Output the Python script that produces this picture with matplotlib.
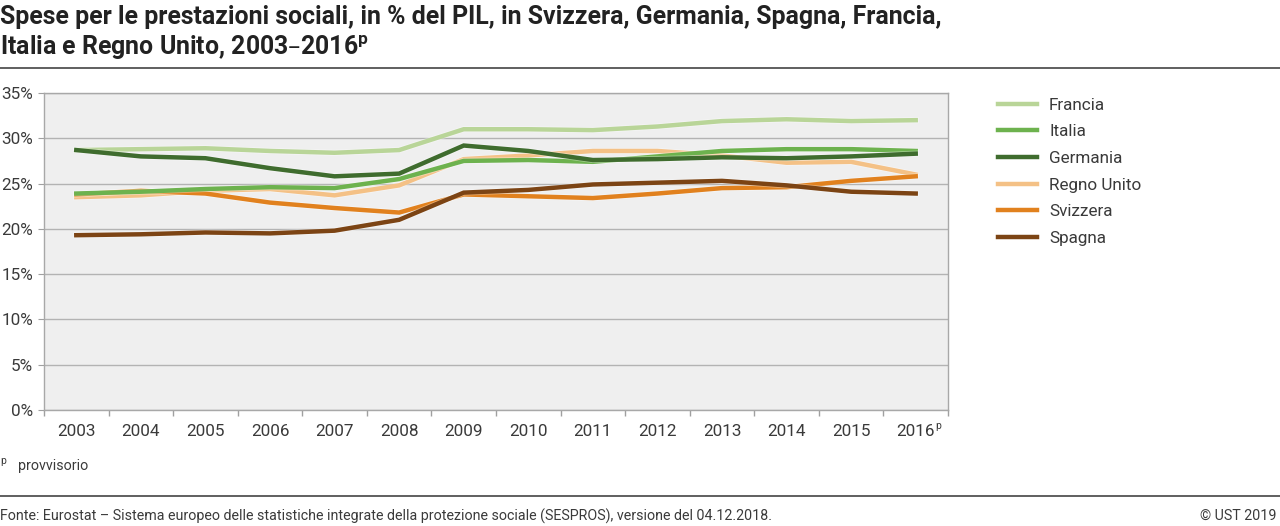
import matplotlib.pyplot as plt
import matplotlib.patheffects as pe
import numpy as np

plt.rcParams['font.family'] = ['Roboto', 'DejaVu Sans']

years = ['2003', '2004', '2005', '2006', '2007', '2008', '2009', '2010',
         '2011', '2012', '2013', '2014', '2015', '2016']
provisional = '2016'

francia = [28.7, 28.8, 28.9, 28.6, 28.4, 28.7, 31.0, 31.0, 30.9, 31.3, 31.9, 32.1, 31.9, 32.0]
italia = [23.9, 24.1, 24.4, 24.6, 24.5, 25.5, 27.5, 27.6, 27.4, 28.0, 28.6, 28.8, 28.8, 28.6]
germania = [28.7, 28.0, 27.8, 26.7, 25.8, 26.1, 29.2, 28.6, 27.6, 27.7, 27.9, 27.8, 28.0, 28.3]
regno_unito = [23.5, 23.7, 24.2, 24.4, 23.7, 24.8, 27.7, 28.1, 28.6, 28.6, 28.1, 27.3, 27.4, 26.0]
svizzera = [23.8, 24.2, 23.9, 22.9, 22.3, 21.8, 23.8, 23.6, 23.4, 23.9, 24.5, 24.6, 25.3, 25.8]
spagna = [19.3, 19.4, 19.6, 19.5, 19.8, 21.0, 24.0, 24.3, 24.9, 25.1, 25.3, 24.8, 24.1, 23.9]

series = [
    ('Francia', francia, '#b9d598'),
    ('Italia', italia, '#6db24e'),
    ('Germania', germania, '#3f6c2e'),
    ('Regno Unito', regno_unito, '#f4c186'),
    ('Svizzera', svizzera, '#e1811e'),
    ('Spagna', spagna, '#7c4414'),
]
# draw order: back to front
draw_order = ['Francia', 'Regno Unito', 'Svizzera', 'Spagna', 'Italia', 'Germania']

fig = plt.figure(figsize=(12.8, 5.26), dpi=100)
ax = fig.add_axes([44 / 1280, 1 - 410 / 526, 904 / 1280, 317 / 526])
ax.set_facecolor('#efefef')

x = np.arange(len(years))
handles = {}
for name, vals, col in series:
    z = 3 + draw_order.index(name)
    ln, = ax.plot(x, vals, color=col, lw=3.2, label=name, zorder=z,
                  solid_joinstyle='miter',
                  path_effects=[pe.Stroke(linewidth=4.4, foreground='white', alpha=0.35),
                                pe.Normal()])
    handles[name] = ln

ax.set_xlim(-0.5, len(years) - 0.5)
ax.set_ylim(0, 35)
ax.set_yticks(np.arange(0, 36, 5))
ax.set_yticklabels([f'{v}%' for v in range(0, 36, 5)])
ax.yaxis.grid(True, color='#b3b3b3', lw=1)
ax.set_axisbelow(True)

ax.set_xticks(x)
ax.set_xticklabels(years)
ax.set_xticks(np.arange(-0.5, len(years), 1), minor=True)
ax.tick_params(axis='x', which='major', length=0, pad=10, labelsize=12.3, colors='#3a3a3a')
ax.tick_params(axis='x', which='minor', length=4, color='#a0a0a0', width=1)
ax.tick_params(axis='y', length=4, color='#a0a0a0', labelsize=12.3, labelcolor='#3a3a3a', pad=4)
for s in ax.spines.values():
    s.set_color('#a8a8a8')
    s.set_linewidth(1)

# superscript "p" next to the provisional year
ax.annotate('p', xy=(years.index(provisional), 0), xycoords=('data', 'axes fraction'),
            xytext=(13.8, -8), textcoords='offset points', ha='left', va='top',
            fontsize=7.5, color='#3a3a3a', annotation_clip=False)

leg = fig.legend([handles[n] for n, _, _ in series], [n for n, _, _ in series],
                 loc='upper left', bbox_to_anchor=(991 / 1280, 1 - 91 / 526),
                 frameon=False, fontsize=12.3, handlelength=2.3, handletextpad=0.7,
                 labelspacing=0.68, borderaxespad=0)
for t in leg.get_texts():
    t.set_color('#3a3a3a')

fig.text(0.0, 1 - 5 / 526,
         'Spese per le prestazioni sociali, in % del PIL, in Svizzera, Germania, Spagna, Francia,\n'
         'Italia e Regno Unito, 2003–2016$^\\mathregular{p}$',
         ha='left', va='top', fontsize=17.9, fontweight='bold', color='#222222',
         linespacing=1.2)

fig.add_artist(plt.Line2D([0, 1], [1 - 68 / 526, 1 - 68 / 526], color='#444444', lw=1.2))
fig.add_artist(plt.Line2D([0, 1], [1 - 496 / 526, 1 - 496 / 526], color='#444444', lw=1.2))

fig.text(0.0, 1 - 461 / 526, 'p', fontsize=7.5, color='#3a3a3a', ha='left', va='center')
fig.text(18 / 1280, 1 - 466 / 526, 'provvisorio', fontsize=10.3, color='#3a3a3a',
         ha='left', va='center')

fig.text(0.0, 1 - 516 / 526,
         'Fonte: Eurostat – Sistema europeo delle statistiche integrate della protezione sociale (SESPROS), versione del 04.12.2018.',
         fontsize=10.3, color='#3a3a3a', ha='left', va='center')
fig.text(1 - 3 / 1280, 1 - 516 / 526, '© UST 2019', fontsize=10.3, color='#3a3a3a',
         ha='right', va='center')

fig.savefig('out.png', dpi=100)
